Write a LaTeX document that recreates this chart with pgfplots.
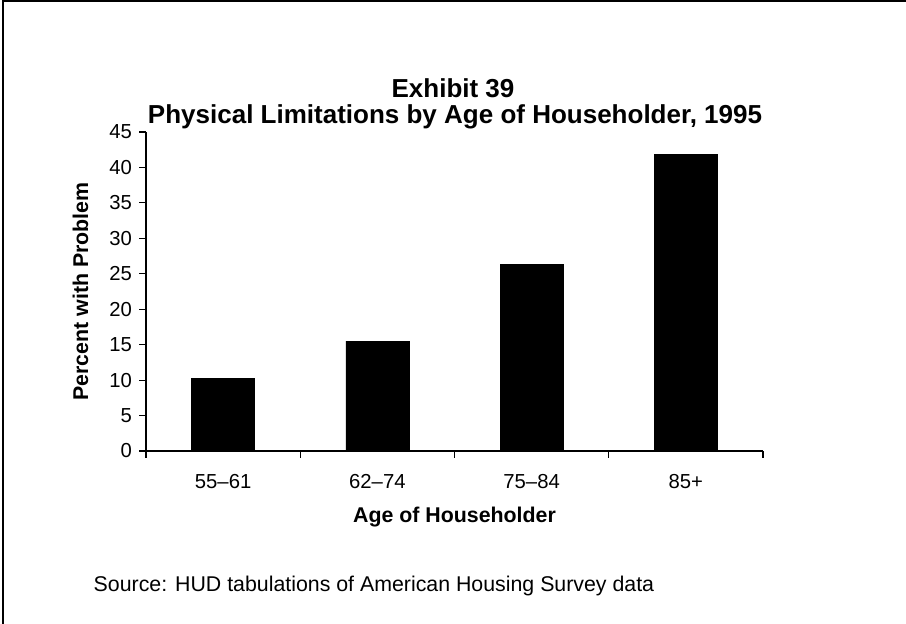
\documentclass[border=0pt]{standalone}
\usepackage{pgfplots}
\pgfplotsset{compat=1.18}
\usepackage{fontspec}
\setmainfont{Liberation Sans}
\newcommand{\px}{0.75pt}
\begin{document}
\begin{tikzpicture}
\path[use as bounding box] (0,0) rectangle ({906*\px},{-624*\px});
\draw[line width=1.5pt] ({3*\px},{-640*\px}) -- ({3*\px},{-1*\px}) -- ({920*\px},{-1*\px});
\node[font=\bfseries\fontsize{19.5}{22}\selectfont] at ({453*\px},{-88*\px}) {Exhibit 39};
\node[font=\bfseries\fontsize{19.5}{22}\selectfont] at ({455*\px},{-117*\px}) {Physical Limitations by Age of Householder, 1995};
\node[anchor=west,font=\fontsize{16}{18}\selectfont] at ({89*\px},{-586*\px}) {Source: HUD tabulations of American Housing Survey data};
\begin{axis}[
  at={({146*\px},{-451*\px})}, anchor=south west,
  scale only axis, width=462.75pt, height=239.25pt,
  xmin=-0.5, xmax=3.5, ymin=0, ymax=45,
  axis x line=bottom, axis y line=left,
  axis line style={-, line width=0.8pt},
  ytick={0,5,...,45},
  y tick label style={font=\fontsize{15.2}{18}\selectfont, xshift=-2pt},
  xtick={-0.5,0.5,1.5,2.5,3.5},
  x tick label as interval,
  xticklabels={55--61,62--74,75--84,85+},
  x tick label style={font=\fontsize{15.2}{18}\selectfont, yshift=-9pt},
  /pgf/number format/assume math mode=true,
  ytick style={black, line width=0.8pt},
  xtick style={black, line width=0.8pt},
  tick align=outside,
  major tick length=5pt,
  ylabel={\bfseries Percent with Problem},
  xlabel={\bfseries Age of Householder},
  label style={font=\bfseries\fontsize{16}{18}\selectfont},
  ylabel style={yshift=9pt},
  xlabel style={yshift=-7pt},
  ybar, bar width=47.25pt,
  clip=false,
]
\addplot[fill=black, draw=black] coordinates {(0,10.2) (1,15.5) (2,26.3) (3,41.8)};
\end{axis}
\end{tikzpicture}
\end{document}
